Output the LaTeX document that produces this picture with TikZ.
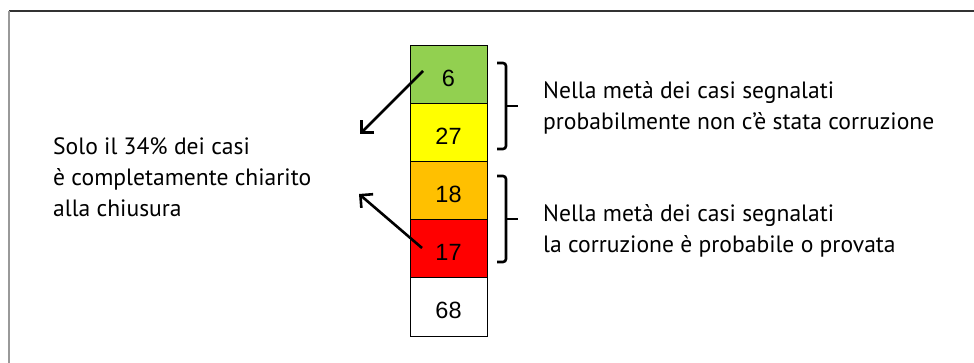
\documentclass[tikz,border=0pt]{standalone}
\usepackage{fontspec}
\setmainfont{PT Sans}
\newfontfamily\cellfont{Liberation Sans}
\usetikzlibrary{arrows.meta,positioning}
\definecolor{cgreen}{RGB}{146,208,80}
\definecolor{cyellow}{RGB}{255,255,0}
\definecolor{corange}{RGB}{255,192,0}
\definecolor{cred}{RGB}{255,0,0}
\tikzset{
    cell/.style={draw, line width=1pt, minimum width=77pt, minimum height=58pt, inner sep=0pt, outer sep=0pt,
      text height=23pt, text depth=0pt, font=\cellfont\fontsize{23.5}{23.5}\selectfont},
    note/.style={anchor=base west, align=left, inner sep=0pt, font=\fontsize{23.6}{31}\selectfont},
    pointer/.style={line width=2.6pt, -{Straight Barb[length=9pt,width=18pt]}},
    curly/.style={line width=2.6pt, rounded corners=3pt}}

\begin{document}
\begin{tikzpicture}[x=1pt,y=-1pt]
\useasboundingbox (0,0) rectangle (974,363);
\draw[line width=1.2pt, black!80] (9,11) -- (974,11);
\draw[line width=2pt, black!40] (9,11) -- (9,363);

\node[cell, fill=cgreen] (n6) at (448.5,75) {6};
\node[cell, fill=cyellow, below=0pt of n6] (n27) {27};
\node[cell, fill=corange, below=0pt of n27] (n18) {18};
\node[cell, fill=cred, below=0pt of n18] (n17) {17};
\node[cell, fill=white, below=0pt of n17] (n68) {68};

\coordinate (t1) at (423,71);
\coordinate (h1) at (360,134);
\coordinate (t2) at (422,248);
\coordinate (h2) at (359,194);
\draw[pointer] (t1) -- (h1);
\draw[pointer] (t2) -- (h2);

\coordinate (b1) at (506,106);
\coordinate (b2) at (506,219);
\draw[curly] (497,63) -- (b1|-0,63) -- (b1|-0,149) -- (497,149);
\draw[curly] (b1) -- (518,106);
\draw[curly] (497,176) -- (b2|-0,176) -- (b2|-0,262) -- (497,262);
\draw[curly] (b2) -- (518,219);

\node[note] (solo) at (53,217) {Solo il 34\% dei casi\\è completamente chiarito\\alla chiusura};
\node[note] (upper) at (543,130) {Nella metà dei casi segnalati\\probabilmente non c{\char"0027}è stata corruzione};
\node[note] (lower) at (543,253) {Nella metà dei casi segnalati\\la corruzione è probabile o provata};
\end{tikzpicture}
\end{document}
